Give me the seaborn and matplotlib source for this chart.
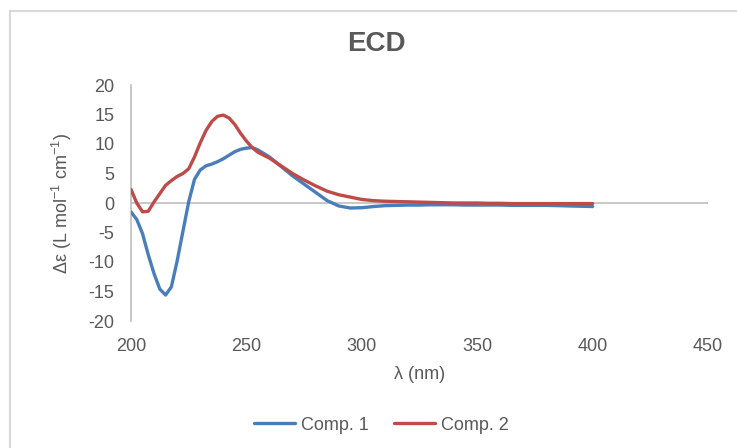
import matplotlib
matplotlib.use("Agg")
import matplotlib.pyplot as plt
from matplotlib.lines import Line2D
import seaborn as sns
import pandas as pd

wavelength = [200, 202.5, 205, 207.5, 210, 212.5, 215, 217.5, 220, 222.5, 225, 227.5,
              230, 232.5, 235, 237.5, 240, 242.5, 245, 247.5, 250, 252.5, 255,
              260, 265, 270, 275, 280, 285, 290, 295, 300, 305, 310, 315, 320, 325,
              330, 335, 340, 345, 350, 355, 360, 365, 370, 375, 380, 385, 390, 395, 400]
comp1 = [-1.5, -2.8, -5.2, -8.8, -12.0, -14.6, -15.6, -14.2, -9.8, -4.8, 0.2, 4.0,
         5.6, 6.3, 6.6, 7.0, 7.5, 8.1, 8.7, 9.1, 9.3, 9.4, 9.0,
         7.8, 6.2, 4.6, 3.2, 1.8, 0.4, -0.5, -0.85, -0.8, -0.6, -0.45, -0.4, -0.35, -0.35,
         -0.3, -0.3, -0.3, -0.35, -0.35, -0.35, -0.35, -0.4, -0.4, -0.4, -0.4, -0.45, -0.5, -0.55, -0.6]
comp2 = [2.3, 0.0, -1.5, -1.4, 0.2, 1.6, 3.0, 3.8, 4.5, 5.0, 5.8, 7.8,
         10.2, 12.3, 13.8, 14.7, 14.9, 14.4, 13.3, 11.8, 10.5, 9.4, 8.6,
         7.6, 6.3, 5.0, 3.9, 2.9, 2.0, 1.4, 1.0, 0.6, 0.4, 0.3, 0.25, 0.2, 0.15,
         0.1, 0.05, 0.0, 0.0, 0.0, -0.05, -0.05, -0.1, -0.1, -0.1, -0.1, -0.1, -0.1, -0.1, -0.1]
series_names = ["Comp. 1", "Comp. 2"]
colors = ["#4A7EBB", "#BE4B48"]
x_ticks = [200, 250, 300, 350, 400, 450]
y_ticks = [-20, -15, -10, -5, 0, 5, 10, 15, 20]

df = pd.concat([
    pd.DataFrame({"wl": wavelength, "de": comp1, "series": series_names[0]}),
    pd.DataFrame({"wl": wavelength, "de": comp2, "series": series_names[1]}),
])

sns.set_style("white")
plt.rcParams["font.family"] = ["Liberation Sans", "DejaVu Sans"]
plt.rcParams["axes.unicode_minus"] = False
plt.rcParams["mathtext.fontset"] = "custom"
plt.rcParams["mathtext.rm"] = "Liberation Sans"
plt.rcParams["mathtext.it"] = "Liberation Sans"
plt.rcParams["mathtext.bf"] = "Liberation Sans:bold"

txt = "#595959"
grey = "#BFBFBF"

fig = plt.figure(figsize=(7.37, 4.48), dpi=100)
ax = fig.add_axes([131/737, 1-321/448, (708-131)/737, (321-85)/448])

ax.axhline(0, color=grey, lw=1.2, zorder=1)
sns.lineplot(data=df, x="wl", y="de", hue="series", palette=colors, lw=2.4,
             ax=ax, legend=False, zorder=3, sort=False)

ax.set_xlim(200, 450)
ax.set_ylim(-20, 20)
ax.set_xticks(x_ticks)
ax.set_yticks(y_ticks)
ax.set_yticklabels([str(v) for v in y_ticks])
for s in ["top", "right", "bottom"]:
    ax.spines[s].set_visible(False)
ax.spines["left"].set_color(grey)
ax.spines["left"].set_linewidth(1.2)
ax.tick_params(axis="both", length=0, labelsize=13, labelcolor=txt)
ax.tick_params(axis="x", pad=12)
ax.tick_params(axis="y", pad=12)
ax.set_xlabel("λ (nm)", fontsize=13, color=txt, labelpad=8)
ax.set_ylabel("Δε (L mol$^{-1}$ cm$^{-1}$)", fontsize=13, color=txt, labelpad=10)

fig.text(376/737, 1-44/448, "ECD", ha="center", va="center", fontsize=20,
         fontweight="bold", color=txt)

handles = [Line2D([], [], color=c, lw=2.4) for c in colors]
leg = fig.legend(handles, series_names, loc="center", ncol=2, frameon=False,
                 bbox_to_anchor=(381/737, 1-425/448), fontsize=13,
                 handlelength=2.3, handletextpad=0.3, columnspacing=1.4)
for t in leg.get_texts():
    t.set_color(txt)

# outer chart border
fig.add_artist(Line2D([9.5/737, 9.5/737], [1-11.5/448, -0.05], transform=fig.transFigure,
                      color="#D9D9D9", lw=1.5))
fig.add_artist(Line2D([9.5/737, 1.05], [1-11.5/448, 1-11.5/448], transform=fig.transFigure,
                      color="#D9D9D9", lw=1.5))

fig.savefig("out.png", dpi=100)
